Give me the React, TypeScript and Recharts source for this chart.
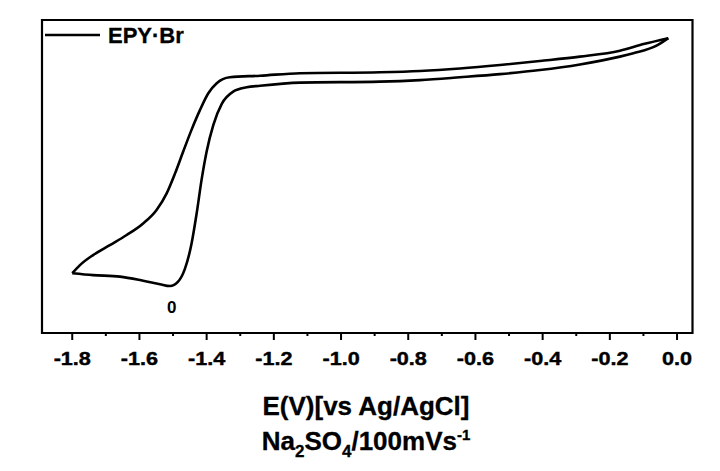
import {
  LineChart,
  Line,
  XAxis,
  YAxis,
  ReferenceArea,
  ReferenceDot,
  Legend,
} from 'recharts';

// potential (V vs Ag/AgCl) and current (arb. units)
const upperE = [
  -1.8, -1.777, -1.738, -1.688, -1.638, -1.589, -1.549, -1.519, -1.494, -1.47, -1.445, -1.42,
  -1.395, -1.37, -1.331, -1.241, -1.122, -0.884, -0.765, -0.646, -0.527, -0.408, -0.289, -0.17,
  -0.1, -0.026,
];
const upperI = [
  19.1, 21.7, 24.9, 28.1, 31.3, 35.0, 39.3, 44.6, 51.0, 57.9, 64.9, 71.2,
  76.6, 79.8, 81.7, 82.2, 83.0, 83.3, 83.7, 84.5, 85.6, 86.9, 88.3, 90.2,
  92.3, 94.2,
];
const lowerE = [
  -1.8, -1.738, -1.658, -1.589, -1.539, -1.509, -1.485, -1.465, -1.445, -1.43, -1.415, -1.4,
  -1.38, -1.355, -1.321, -1.281, -1.241, -1.122, -0.884, -0.765, -0.646, -0.527, -0.408, -0.289,
  -0.17, -0.13, -0.061, -0.026,
];
const lowerI = [
  19.1, 18.5, 18.0, 16.7, 15.6, 15.0, 16.4, 20.4, 28.5, 38.0, 49.0, 58.0,
  66.5, 73.2, 77.1, 78.5, 79.0, 80.0, 80.3, 80.8, 81.7, 82.7, 84.0, 85.8,
  88.3, 89.4, 91.8, 94.2,
];

const majorTicks = [-1.8, -1.6, -1.4, -1.2, -1.0, -0.8, -0.6, -0.4, -0.2, 0.0];
const minorTicks = [-1.7, -1.5, -1.3, -1.1, -0.9, -0.7, -0.5, -0.3, -0.1];

const seriesName = 'EPY·Br';
const peakNote = { e: -1.504, i: 15.0, text: '0' };

const upperData = upperE.map((e, k) => ({ e, i: upperI[k] }));
const lowerData = lowerE.map((e, k) => ({ e, i: lowerI[k] }));
const allTicks = [...majorTicks, ...minorTicks].sort((a, b) => a - b);

const FONT = '"Liberation Sans", Arial, sans-serif';

function PotentialTick({ x, y, payload }: any) {
  const v = payload.value as number;
  const major = majorTicks.some((t) => Math.abs(t - v) < 1e-6);
  return (
    <g>
      <line x1={x} x2={x} y1={y} y2={y + (major ? 7 : 3)} stroke="#000" strokeWidth={2} />
      {major && (
        <text
          transform={`translate(${x},${y + 32}) scale(1.2,1)`}
          textAnchor="middle"
          fontFamily={FONT}
          fontWeight="bold"
          fontSize={18}
          fill="#000"
          stroke="#000"
          strokeWidth={0.4}
        >
          {v.toFixed(1)}
        </text>
      )}
    </g>
  );
}

function LegendBox() {
  return (
    <svg width={200} height={36}>
      <line x1={3} x2={58} y1={15} y2={15} stroke="#000" strokeWidth={2.5} />
      <text
        x={66}
        y={23}
        fontFamily={FONT}
        fontWeight="bold"
        fontSize={22}
        fill="#000"
        stroke="#000"
        strokeWidth={0.3}
      >
        {seriesName}
      </text>
    </svg>
  );
}

export default function App() {
  return (
    <div style={{ position: 'absolute', left: 0, top: 0, width: 720, height: 471, background: '#fff' }}>
      <LineChart width={720} height={471} margin={{ top: 20, right: 27.5, left: 42, bottom: 98 }}>
        <XAxis
          dataKey="e"
          type="number"
          domain={[-1.89, 0.046]}
          allowDataOverflow
          ticks={allTicks}
          interval={0}
          height={40}
          axisLine={false}
          tickLine={false}
          tickSize={0}
          tickMargin={0}
          tick={<PotentialTick />}
        />
        <YAxis hide type="number" domain={[0, 100]} allowDataOverflow />
        <ReferenceArea
          x1={-1.89}
          x2={0.046}
          y1={0}
          y2={100}
          fill="none"
          fillOpacity={0}
          stroke="#000"
          strokeWidth={2.2}
        />
        <Legend
          layout="horizontal"
          verticalAlign="middle"
          align="center"
          wrapperStyle={{ top: 20, left: 42, width: 200, height: 36 }}
          content={() => <LegendBox />}
        />
        <Line
          data={upperData}
          dataKey="i"
          name={seriesName}
          type="monotone"
          stroke="#000"
          strokeWidth={2.6}
          dot={false}
          activeDot={false}
          isAnimationActive={false}
        />
        <Line
          data={lowerData}
          dataKey="i"
          name={seriesName}
          legendType="none"
          type="monotone"
          stroke="#000"
          strokeWidth={2.6}
          dot={false}
          activeDot={false}
          isAnimationActive={false}
        />
        <ReferenceDot
          x={peakNote.e}
          y={peakNote.i}
          r={1}
          fill="none"
          stroke="none"
          label={{
            value: peakNote.text,
            position: 'bottom',
            offset: 14,
            fill: '#000',
            fontSize: 17,
            fontWeight: 'bold',
            fontFamily: FONT,
          }}
        />
      </LineChart>
      <svg
        width={720}
        height={471}
        style={{ position: 'absolute', left: 0, top: 0, pointerEvents: 'none' }}
      >
        <g fontFamily={FONT} fontWeight="bold" fontSize={26} fill="#000" stroke="#000" strokeWidth={0.3}>
          <text x={366} y={415} textAnchor="middle">
            E(V)[vs Ag/AgCl]
          </text>
          <text x={366} y={450} textAnchor="middle">
            Na
            <tspan fontSize={17} dy={7}>2</tspan>
            <tspan dy={-7}>SO</tspan>
            <tspan fontSize={17} dy={7}>4</tspan>
            <tspan dy={-7}>/100mVs</tspan>
            <tspan fontSize={15} dy={-10}>-1</tspan>
          </text>
        </g>
      </svg>
    </div>
  );
}
